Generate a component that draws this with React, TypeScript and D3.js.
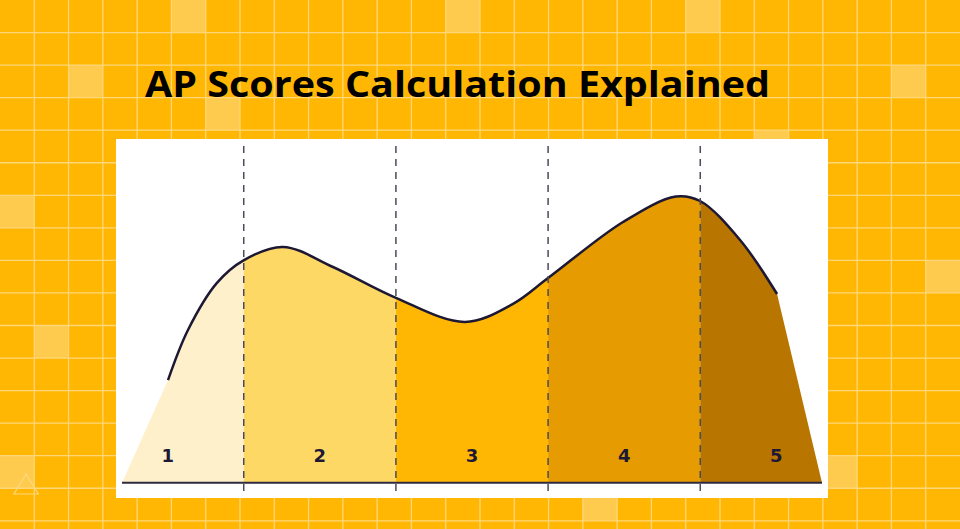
import React from "react";
import * as d3 from "d3";

const W = 960;
const H = 529;

const title = "AP Scores Calculation Explained";
const scoreLabels = ["1", "2", "3", "4", "5"];
const labelX = [7.5, 32.5, 57.5, 82.5, 107.5];
const cutX = [0, 20, 45, 70, 95, 115];
const zoneColors = ["#FFF0CC", "#FED865", "#FFB703", "#E69C00", "#B87500"];

const curveX = [7.56, 10.84, 15.6, 20.04, 26.45, 34.66, 45.0, 56.35, 64.24, 69.99, 82.31, 91.0, 94.97, 101.54, 107.62];
const curveY = [34.2, 50.9, 66.6, 74.2, 78.6, 71.9, 61.6, 53.6, 59.6, 68.2, 86.9, 95.4, 93.9, 80.9, 62.9];

const lightCells: [number, number][] = [
  [5, 0], [13, 0], [20, 0], [2, 2], [26, 2], [6, 3], [22, 4], [0, 6], [27, 8], [1, 10], [0, 14], [24, 14], [17, 15],
];

export default function App() {
  const cellW = W / 28;
  const cellH = 32.55;
  const x = d3.scaleLinear().domain([0, 115]).range([122, 822]);
  const y = d3.scaleLinear().domain([0, 100]).range([482.7, 182.7]);

  const pts: [number, number][] = curveX.map((v, i) => [v, curveY[i]]);
  const line = d3
    .line<[number, number]>()
    .x((d) => x(d[0]))
    .y((d) => y(d[1]))
    .curve(d3.curveCatmullRom.alpha(0.5));
  const curvePath = line(pts) || "";
  const areaPath = `M${x(0)},${y(0)}L` + curvePath.slice(1) + `L${x(115)},${y(0)}Z`;

  const vLines = d3.range(1, 28).map((k) => k * cellW);
  const hLines = d3.range(1, 17).map((k) => k * cellH);

  return (
    <svg width={W} height={H} style={{ position: "absolute", left: 0, top: 0, display: "block" }}>
      <defs>
        {cutX.slice(0, 5).map((c, i) => (
          <clipPath id={`zone${i}`} key={i}>
            <rect x={x(c)} y={0} width={x(cutX[i + 1]) - x(c)} height={H} />
          </clipPath>
        ))}
      </defs>
      <rect x={0} y={0} width={W} height={H} fill="#FFB703" />
      {lightCells.map(([c, r], i) => (
        <rect key={i} x={c * cellW} y={r * cellH} width={cellW} height={cellH} fill="#FFCB4F" />
      ))}
      <path d="M14,494 L38.3,494 L26,474 Z" fill="none" stroke="#FFD880" strokeWidth={1.2} />
      {vLines.map((v, i) => (
        <line key={"v" + i} x1={v} x2={v} y1={0} y2={H} stroke="#FFD77A" strokeWidth={1.3} />
      ))}
      {hLines.map((v, i) => (
        <line key={"h" + i} x1={0} x2={W} y1={v} y2={v} stroke="#FFD77A" strokeWidth={1.3} />
      ))}
      <text
        x={145}
        y={97}
        fontFamily="'Open Sans', Inter, sans-serif"
        fontWeight={700}
        fontSize={36}
        fill="#000"
        textLength={625}
        lengthAdjust="spacingAndGlyphs"
      >
        {title}
      </text>
      <rect x={116} y={139} width={712} height={359} fill="#FFFFFF" />
      {zoneColors.map((col, i) => (
        <path key={i} d={areaPath} fill={col} clipPath={`url(#zone${i})`} />
      ))}
      <path d={curvePath} fill="none" stroke="#1D1833" strokeWidth={2.5} />
      {cutX.slice(1, 5).map((c, i) => (
        <line
          key={"d" + i}
          x1={x(c)}
          x2={x(c)}
          y1={146}
          y2={492}
          stroke="#4A4A5A"
          strokeWidth={1.5}
          strokeDasharray="7,6"
        />
      ))}
      <line x1={x(0)} x2={x(115)} y1={y(0)} y2={y(0)} stroke="#2E2A40" strokeWidth={2} />
      {scoreLabels.map((s, i) => (
        <text
          key={s}
          x={x(labelX[i])}
          y={462}
          textAnchor="middle"
          fontFamily="'DejaVu Sans', sans-serif"
          fontWeight={700}
          fontSize={18}
          fill="#1D1833"
        >
          {s}
        </text>
      ))}
    </svg>
  );
}
